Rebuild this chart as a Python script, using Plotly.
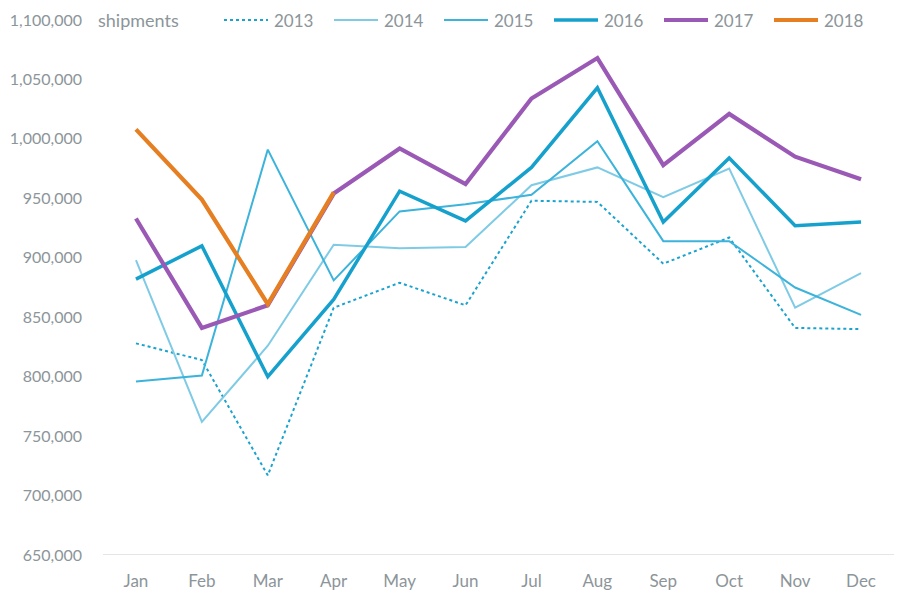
import plotly.graph_objects as go

months = ["Jan", "Feb", "Mar", "Apr", "May", "Jun", "Jul", "Aug", "Sep", "Oct", "Nov", "Dec"]
s2013 = [828000, 814000, 717000, 858000, 879000, 860000, 948000, 947000, 895000, 917000, 841000, 840000]
s2014 = [898000, 762000, 826000, 911000, 908000, 909000, 961000, 976000, 951000, 975000, 858000, 887000]
s2015 = [796000, 801000, 991000, 881000, 939000, 945000, 953000, 998000, 914000, 914000, 875000, 852000]
s2016 = [882000, 910000, 800000, 865000, 956000, 931000, 976000, 1043000, 930000, 984000, 927000, 930000]
s2017 = [933000, 841000, 860000, 954000, 992000, 962000, 1034000, 1068000, 978000, 1021000, 985000, 966000]
s2018 = [1008000, 949000, 861000, 955000]
y_ticks = [650000, 700000, 750000, 800000, 850000, 900000, 950000, 1000000, 1050000, 1100000]

TEXT = "#8c9599"
FONT = "Lato"

series = [
    ("2013", s2013, "#1ba3d0", 2, "dot"),
    ("2014", s2014, "#7fcbe5", 2, "solid"),
    ("2015", s2015, "#3cb3db", 2, "solid"),
    ("2016", s2016, "#16a1cd", 3.5, "solid"),
    ("2017", s2017, "#9b59b6", 4.2, "solid"),
    ("2018", s2018, "#e67e22", 4.2, "solid"),
]

# page has an 8px body margin, so the figure is offset by 8px
OFF = 8
W, H = 909 - OFF, 601 - OFF
ML, MR, MT, MB = 103 - OFF, 15, 20 - OFF, 46
PW = W - ML - MR
PAGE_L = ML + OFF

fig = go.Figure()
for name, vals, color, width, dash in series:
    fig.add_trace(go.Scatter(
        x=months[:len(vals)], y=vals, name=name, mode="lines",
        line=dict(color=color, width=width, dash=dash),
    ))

shapes = [dict(type="line", xref="paper", yref="y", x0=0, x1=1,
               y0=650000, y1=650000, line=dict(color="#dcdcdc", width=1.5))]
annotations = [dict(text="shipments", xref="paper", yref="paper",
                    x=(96 - PAGE_L) / PW, y=1.0, xanchor="left", yanchor="middle",
                    showarrow=False, font=dict(family=FONT, size=18, color=TEXT))]
for i, (name, vals, color, width, dash) in enumerate(series):
    start = 224 + 110 * i
    shapes.append(dict(type="line", xref="paper", yref="paper",
                       x0=(start - PAGE_L) / PW, x1=(start + 44 - PAGE_L) / PW, y0=1.0, y1=1.0,
                       line=dict(color=color, width=min(width, 3.8), dash=dash)))
    annotations.append(dict(text=name, xref="paper", yref="paper",
                            x=(start + 48 - PAGE_L) / PW, y=1.0, xanchor="left", yanchor="middle",
                            showarrow=False, font=dict(family=FONT, size=17, color=TEXT)))

fig.update_layout(
    width=W, height=H,
    margin=dict(l=ML, r=MR, t=MT, b=MB),
    paper_bgcolor="white", plot_bgcolor="white",
    font=dict(family=FONT, size=17, color=TEXT),
    showlegend=False,
    xaxis=dict(
        categoryorder="array", categoryarray=months, automargin=False,
        range=[-0.5, 11.5], showgrid=False, zeroline=False,
        showline=False, ticks="", ticklabelstandoff=14,
        tickfont=dict(family=FONT, size=17, color=TEXT),
    ),
    yaxis=dict(
        range=[650000, 1100000], tickvals=y_ticks, tickformat=",", automargin=False,
        showgrid=False, zeroline=False, showline=False, ticks="",
        ticklabelstandoff=20,
        tickfont=dict(family=FONT, size=16, color=TEXT),
    ),
    shapes=shapes,
    annotations=annotations,
)

fig.write_html("out.html")
